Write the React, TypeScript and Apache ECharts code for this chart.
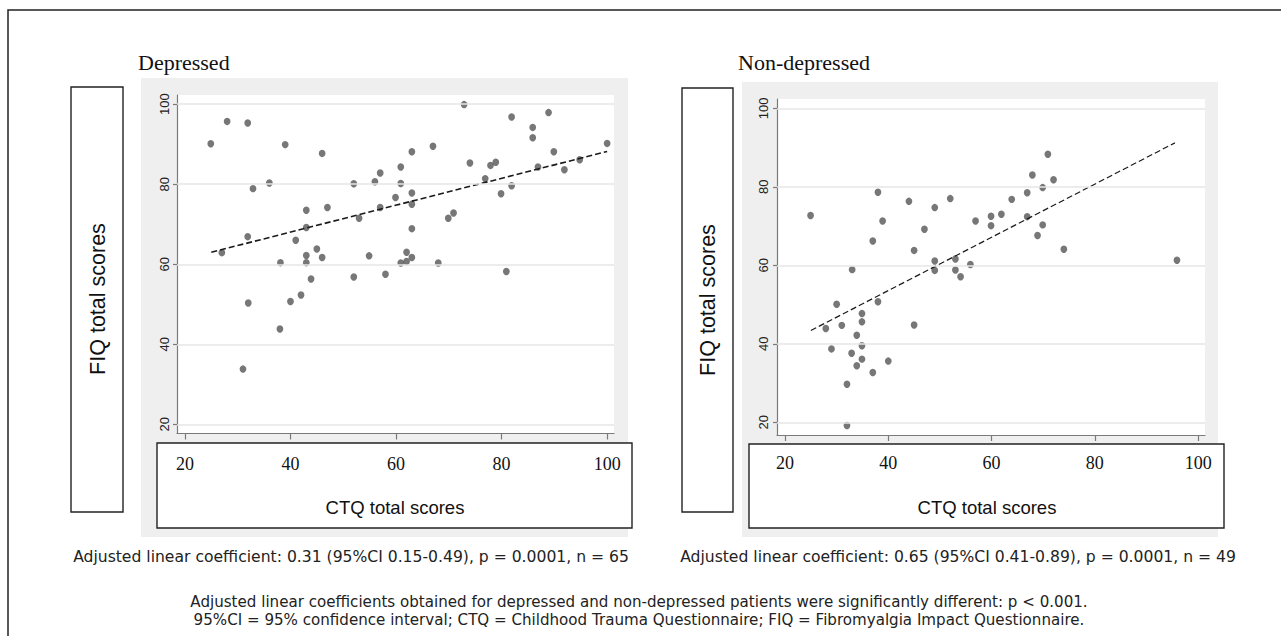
import React, { useEffect, useRef } from 'react';
import * as echarts from 'echarts';

const xTicks = [20, 40, 60, 80, 100];
const yTicks = [20, 40, 60, 80, 100];

const depressedPoints: [number, number][] = [
  [24.9, 90.1], [28.0, 95.7], [31.9, 95.3], [27.0, 62.9], [32.9, 78.9], [31.9, 66.9],
  [36.0, 80.3], [39.0, 89.9], [38.1, 60.4], [41.0, 66.0], [43.0, 73.5], [43.0, 69.2],
  [43.0, 62.2], [43.0, 60.4], [45.0, 63.8], [46.0, 87.7], [46.0, 61.7], [47.0, 74.2],
  [43.9, 56.3], [52.0, 80.1], [53.0, 71.5], [52.0, 56.8], [54.9, 62.1], [56.0, 80.6],
  [57.0, 82.8], [57.0, 74.2], [58.0, 57.5], [59.9, 76.7], [60.9, 84.3], [60.9, 80.2],
  [60.9, 60.3], [62.0, 63.0], [62.0, 60.7], [63.0, 88.1], [63.0, 77.8], [63.0, 75.0],
  [63.0, 68.9], [63.0, 61.7], [67.0, 89.5], [68.0, 60.3], [69.9, 71.5], [70.9, 72.8],
  [72.9, 99.9], [74.0, 85.3], [76.9, 81.4], [77.9, 84.7], [78.9, 85.5], [79.9, 77.6],
  [80.9, 58.2], [81.9, 96.8], [81.9, 79.6], [85.9, 94.2], [85.9, 91.6], [86.9, 84.3],
  [88.9, 97.9], [89.9, 88.1], [91.9, 83.6], [94.8, 86.1], [100.0, 90.2], [32.0, 50.3],
  [40.0, 50.7], [42.0, 52.3], [38.0, 43.8], [31.0, 33.8],
];

const nonDepressedPoints: [number, number][] = [
  [24.95, 72.7], [33.0, 58.9], [37.0, 66.2], [38.0, 78.6], [38.9, 71.3], [44.0, 76.3],
  [45.0, 63.8], [47.0, 69.2], [49.0, 74.7], [49.0, 61.1], [49.0, 58.7], [52.0, 77.0],
  [53.0, 61.6], [53.0, 58.8], [54.0, 57.1], [55.9, 60.2], [56.9, 71.3], [59.9, 72.5],
  [59.9, 70.1], [61.9, 73.0], [63.9, 76.8], [66.9, 78.5], [66.9, 72.4], [67.9, 83.0],
  [68.9, 67.6], [69.9, 79.8], [69.9, 70.3], [70.9, 88.3], [72.0, 81.8], [74.0, 64.1],
  [95.9, 61.3], [27.9, 43.9], [29.0, 38.7], [30.0, 50.1], [31.0, 44.7], [32.0, 29.7],
  [32.0, 19.2], [32.9, 37.6], [33.9, 42.2], [33.9, 34.4], [34.9, 47.7], [34.9, 45.6],
  [34.9, 39.5], [34.9, 36.1], [37.0, 32.7], [38.0, 50.7], [40.0, 35.6], [45.0, 44.8],
];

const depressedFit: [number, number][] = [[25, 63.0], [100, 88.2]];
const nonDepressedFit: [number, number][] = [[25, 43.4], [95.5, 91.2]];

const titles = ['Depressed', 'Non-depressed'];
const yName = 'FIQ total scores';
const xName = 'CTQ total scores';
const captions = [
  'Adjusted linear coefficient: 0.31 (95%CI 0.15-0.49), p = 0.0001, n = 65',
  'Adjusted linear coefficient: 0.65 (95%CI 0.41-0.89), p = 0.0001, n = 49',
];
const footnotes = [
  'Adjusted linear coefficients obtained for depressed and non-depressed patients were significantly different: p < 0.001.',
  '95%CI = 95% confidence interval; CTQ = Childhood Trauma Questionnaire; FIQ = Fibromyalgia Impact Questionnaire.',
];

const SANS = '"Liberation Sans", Arial, sans-serif';
const SERIF = '"Liberation Serif", "Times New Roman", serif';
const VERD = '"DejaVu Sans", Verdana, sans-serif';

const AXIS_COLOR = '#7a7a7a';
const GRID_COLOR = '#e6e6e6';
const DOT_COLOR = '#555555';

function makeXAxis(gridIndex: number, min: number, max: number, margin: number) {
  return {
    type: 'value',
    gridIndex,
    min,
    max,
    splitLine: { show: false },
    axisLine: { show: true, onZero: false, lineStyle: { color: AXIS_COLOR, width: 1.2 } },
    axisTick: { show: true, length: 6, customValues: xTicks, lineStyle: { color: AXIS_COLOR, width: 1.2 } },
    axisLabel: {
      customValues: xTicks,
      margin,
      fontFamily: SERIF,
      fontSize: 18,
      color: '#111',
    },
  };
}

function makeYAxis(gridIndex: number, min: number, max: number, margin: number) {
  return {
    type: 'value',
    gridIndex,
    min,
    max,
    splitLine: { show: false },
    axisLine: { show: true, onZero: false, lineStyle: { color: AXIS_COLOR, width: 1.2 } },
    axisTick: { show: true, length: 4, customValues: yTicks, lineStyle: { color: AXIS_COLOR, width: 1.2 } },
    axisLabel: {
      customValues: yTicks,
      rotate: 90,
      margin,
      fontFamily: SANS,
      fontSize: 13,
      color: '#222',
    },
  };
}

function gridSeries(idx: number) {
  return {
    type: 'line',
    xAxisIndex: idx,
    yAxisIndex: idx,
    data: [],
    z: 1,
    silent: true,
    markLine: {
      silent: true,
      symbol: 'none',
      label: { show: false },
      lineStyle: { color: GRID_COLOR, width: 1.6, type: 'solid' },
      data: yTicks.map((v) => ({ yAxis: v })),
    },
  };
}

function scatterSeries(idx: number, data: [number, number][]) {
  return {
    type: 'scatter',
    xAxisIndex: idx,
    yAxisIndex: idx,
    data,
    symbol: 'circle',
    symbolSize: [6.8, 7.4],
    itemStyle: { color: DOT_COLOR },
    z: 3,
  };
}

function fitSeries(idx: number, data: [number, number][], width: number) {
  return {
    type: 'line',
    xAxisIndex: idx,
    yAxisIndex: idx,
    data,
    symbol: 'none',
    lineStyle: { color: '#1a1a1a', width, type: [6, 3] },
    z: 4,
  };
}

function rect(x: number, y: number, w: number, h: number, style: any, z: number) {
  return { type: 'rect', z, shape: { x, y, width: w, height: h }, style };
}

function text(t: string, x: number, y: number, font: string, opts: any = {}) {
  return {
    type: 'text',
    x,
    y,
    z: 10,
    rotation: opts.rotation || 0,
    style: {
      text: t,
      font,
      fill: opts.fill || '#111',
      align: opts.align || 'center',
      verticalAlign: 'middle',
    },
  };
}

export default function App() {
  const ref = useRef<HTMLDivElement>(null);

  useEffect(() => {
    if (!ref.current) return;
    const chart = echarts.init(ref.current, undefined, { renderer: 'svg' });
    const gray = { fill: '#efefef' };
    const white = { fill: '#ffffff' };
    const box = { fill: '#ffffff', stroke: '#222', lineWidth: 1.4 };

    const option: any = {
      animation: false,
      backgroundColor: '#ffffff',
      grid: [
        { left: 177, top: 95, width: 437, height: 338.5, outerBoundsMode: 'none' },
        { left: 777, top: 99, width: 428, height: 336, outerBoundsMode: 'none' },
      ],
      xAxis: [makeXAxis(0, 18.5, 101.3, 21), makeXAxis(1, 18.45, 101.33, 19)],
      yAxis: [makeYAxis(0, 17.7, 102.3, 6), makeYAxis(1, 16.77, 102.37, 7)],
      series: [
        gridSeries(0),
        gridSeries(1),
        scatterSeries(0, depressedPoints),
        scatterSeries(1, nonDepressedPoints),
        fitSeries(0, depressedFit, 1.6),
        fitSeries(1, nonDepressedFit, 1.2),
      ],
      graphic: [
        // outer frame
        rect(8, 10, 1300, 700, { fill: 'none', stroke: '#222', lineWidth: 1.5 }, -30),
        // left panel backgrounds
        rect(141, 78, 487, 459, gray, -25),
        rect(177, 95, 437, 338.5, white, -24),
        // right panel backgrounds
        rect(742, 82, 476, 455, gray, -25),
        rect(777, 99, 428, 336, white, -24),
        // label boxes
        rect(71, 87, 52, 425, box, -23),
        rect(157, 443, 475, 85, box, -23),
        rect(682, 88, 51, 424, box, -23),
        rect(749, 444, 475, 84, box, -23),
        // titles
        text(titles[0], 138, 62, `22px ${SERIF}`, { align: 'left' }),
        text(titles[1], 738, 62, `22px ${SERIF}`, { align: 'left' }),
        // axis names
        text(yName, 98, 299, `21.5px ${SANS}`, { rotation: Math.PI / 2 }),
        text(yName, 708, 300, `21.5px ${SANS}`, { rotation: Math.PI / 2 }),
        text(xName, 395, 507, `18.5px ${SANS}`),
        text(xName, 987, 507, `18.5px ${SANS}`),
        // captions
        text(captions[0], 351, 557, `15.6px ${VERD}`, { fill: '#222' }),
        text(captions[1], 958, 557, `15.6px ${VERD}`, { fill: '#222' }),
        text(footnotes[0], 639, 602, `15.1px ${VERD}`, { fill: '#222' }),
        text(footnotes[1], 639, 620, `15.1px ${VERD}`, { fill: '#222' }),
      ],
    };
    chart.setOption(option);
    return () => chart.dispose();
  }, []);

  return (
    <div
      ref={ref}
      style={{ position: 'fixed', left: 0, top: 0, width: 1281, height: 636, background: '#fff' }}
    />
  );
}
